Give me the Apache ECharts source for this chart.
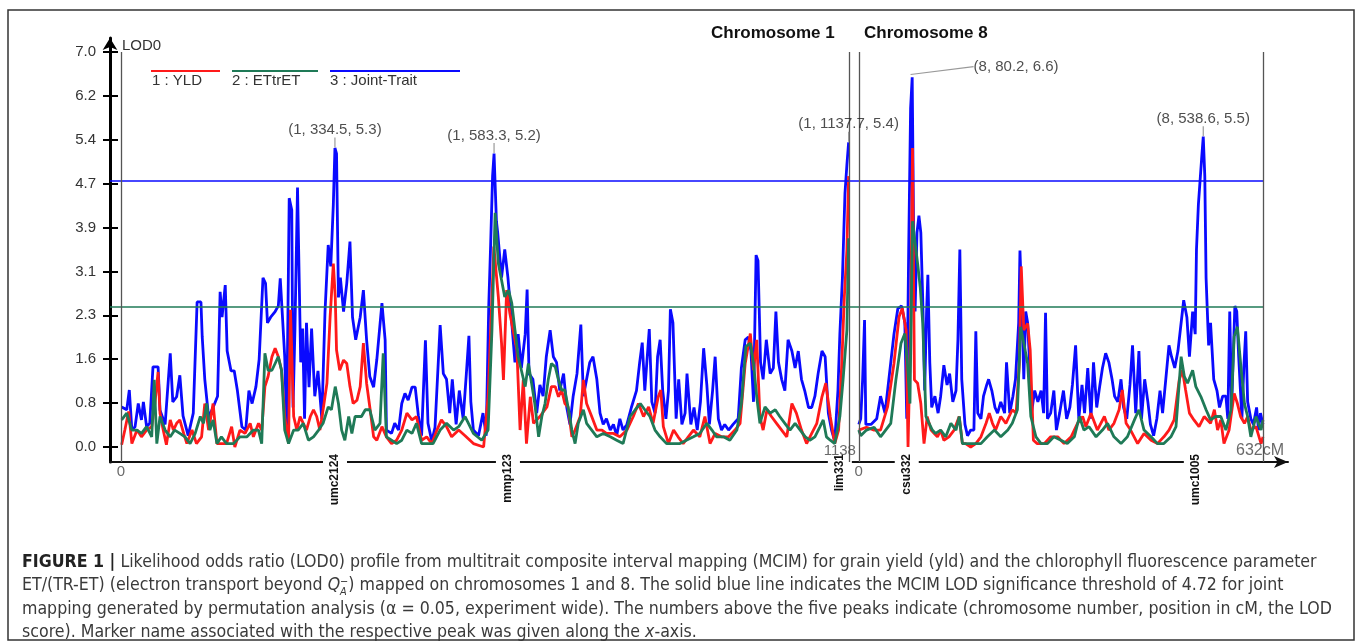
<!DOCTYPE html>
<html>
<head>
<meta charset="utf-8">
<title>MCIM LOD profile</title>
<script src="https://cdn.jsdelivr.net/npm/echarts@6/dist/echarts.min.js"></script>
<style>
html, body { margin: 0; padding: 0; background: #fff; }
#wrap { position: relative; width: 1357px; height: 644px; }
#chart { position: absolute; left: 0; top: 0; width: 1357px; height: 644px; }
#caption {
  position: absolute; left: 22px; top: 550px; white-space: nowrap;
  font-family: 'Liberation Sans Narrow', 'DejaVu Sans Condensed', sans-serif;
  font-size: 17.6px; line-height: 23px; color: #3a3a3a;
}
#caption b { color: #222; }
.qa { display: inline-block; vertical-align: -0.45em; font-size: 0.62em; line-height: 0.95em; text-align: left; }
</style>
</head>
<body>
<div id="wrap">
  <div id="chart"></div>
  <div id="caption">
    <b>FIGURE 1 |</b> Likelihood odds ratio (LOD0) profile from multitrait composite interval mapping (MCIM) for grain yield (yld) and the chlorophyll fluorescence parameter<br>
    ET/(TR-ET) (electron transport beyond <i>Q</i><span class="qa">&minus;<br><i>A</i></span>) mapped on chromosomes 1 and 8. The solid blue line indicates the MCIM LOD significance threshold of 4.72 for joint<br>
    mapping generated by permutation analysis (&alpha; = 0.05, experiment wide). The numbers above the five peaks indicate (chromosome number, position in cM, the LOD<br>
    score). Marker name associated with the respective peak was given along the <i>x</i>-axis.
  </div>
</div>
<script>
// chromosome lengths (cM) and the gap drawn between the two linkage maps
const chr1Length = 1138;
const chr8Length = 632;
const chr8Offset = 1153.6;

// y axis ticks (LOD0)
const yTickValues = [0, 0.778, 1.556, 2.333, 3.111, 3.889, 4.667, 5.444, 6.222, 7.0];

// significance thresholds
const jointThreshold = 4.72;
const etThreshold = 2.48;

// markers along the x axis
const markerNames = ['umc2124', 'mmp123', 'lim331', 'csu332', 'umc1005'];
const markerChr = [1, 1, 1, 8, 8];
const markerCM = [334.6, 605, 1124, 75, 527];

// labelled peaks (chromosome, position, LOD)
const peakChr = [1, 1, 1, 8, 8];
const peakCM = [334.5, 583.3, 1137.7, 80.2, 538.6];
const peakLOD = [5.3, 5.2, 5.4, 6.6, 5.5];

// [cM, LOD] read from the profile
const chr1Joint = [[1,0.71],[9,0.66],[13,1.01],[17,0.30],[22,0.36],[27,0.77],[32,0.48],[35,0.80],[40,0.36],[45,0.42],[50,1.42],[58,1.42],[61,0.65],[69,0.40],[77,1.66],[81,0.80],[87,0.89],[92,1.27],[97,0.55],[105,0.20],[113,0.60],[119,2.57],[125,2.57],[127,1.95],[131,1.20],[137,0.53],[144,0.70],[151,0.90],[155,2.75],[158,2.30],[163,2.87],[166,1.70],[172,1.35],[177,1.35],[182,1.00],[189,0.36],[195,0.30],[200,1.00],[205,0.77],[211,1.07],[216,1.55],[222,3.00],[226,2.90],[229,2.20],[234,2.30],[241,2.40],[246,2.50],[249,2.99],[252,2.40],[256,1.60],[259,0.30],[263,4.41],[267,4.20],[269,0.70],[272,2.10],[276,4.60],[279,4.60],[281,1.50],[284,2.10],[287,0.50],[290,2.20],[294,1.06],[298,2.10],[303,0.90],[308,1.35],[314,0.50],[319,2.40],[324,3.58],[328,3.20],[332,4.30],[334.5,5.30],[337,5.20],[340,2.65],[343,3.00],[348,2.40],[353,2.90],[358,3.64],[362,2.30],[367,1.90],[374,2.30],[379,2.78],[384,1.90],[389,1.25],[395,1.06],[400,1.55],[408,2.55],[413,1.90],[415,0.30],[423,0.24],[428,0.42],[434,0.30],[439,0.77],[444,0.95],[449,0.83],[455,1.06],[460,1.06],[465,0.55],[470,0.20],[476,1.89],[480,0.42],[486,0.10],[491,0.35],[499,2.16],[504,1.30],[509,1.20],[514,0.60],[518,1.20],[524,0.40],[529,1.00],[535,0.50],[540,1.30],[544,1.97],[547,0.80],[551,0.30],[559,0.20],[566,0.60],[571,0.20],[575,2.50],[578,3.60],[581,4.80],[583.3,5.20],[587,4.00],[589,3.80],[595,3.00],[600,3.50],[605,3.00],[611,2.20],[616,1.50],[621,2.00],[626,1.40],[632,2.00],[635,2.79],[638,1.30],[644,1.20],[650,0.60],[655,1.10],[660,0.90],[665,1.60],[671,2.07],[676,1.60],[681,1.50],[686,1.00],[692,1.30],[697,0.70],[702,0.40],[707,0.90],[713,1.30],[719,2.17],[723,0.90],[728,1.20],[733,1.50],[738,1.60],[744,1.20],[749,0.60],[754,0.40],[759,0.50],[765,0.30],[770,0.40],[775,0.20],[780,0.50],[785,0.30],[791,0.40],[798,0.70],[806,1.00],[811,1.50],[815,1.85],[819,1.00],[826,2.09],[830,0.80],[835,0.60],[839,1.60],[843,1.90],[847,1.00],[852,0.50],[856,1.00],[859,2.44],[863,2.20],[868,0.50],[872,1.20],[877,0.40],[882,0.60],[885,1.30],[891,0.40],[896,0.70],[901,0.30],[906,0.80],[911,1.75],[916,1.10],[920,0.40],[925,1.00],[929,1.60],[934,0.50],[939,0.30],[944,0.40],[950,0.30],[957,0.40],[965,0.50],[970,1.40],[976,1.90],[981,1.95],[985,1.70],[989,0.80],[993,3.40],[996,3.30],[1000,1.50],[1004,1.20],[1009,1.90],[1015,1.30],[1020,1.40],[1024,2.40],[1028,1.50],[1033,1.20],[1038,1.00],[1043,1.90],[1049,1.70],[1054,1.40],[1059,1.70],[1064,1.20],[1069,1.00],[1075,0.70],[1080,0.70],[1085,0.90],[1090,1.30],[1096,1.70],[1101,1.60],[1106,0.60],[1111,0.30],[1116,0.10],[1121,1.00],[1124,2.00],[1128,3.00],[1132,4.50],[1135,5.00],[1137.7,5.40]];

const chr1Yld = [[1,0.04],[6,0.30],[12,0.63],[17,0.06],[25,0.30],[32,0.18],[40,0.30],[48,0.36],[53,0.77],[58,1.33],[61,0.60],[66,0.30],[71,0.04],[77,0.48],[82,0.30],[87,0.42],[92,0.48],[98,0.24],[103,0.06],[111,0.30],[118,0.06],[126,0.18],[131,0.77],[137,0.30],[144,0.77],[150,0.06],[157,0.06],[165,0.06],[173,0.36],[178,0.00],[186,0.30],[194,0.24],[202,0.42],[207,0.18],[215,0.42],[220,0.30],[225,1.07],[230,1.25],[236,1.60],[241,1.75],[246,1.60],[251,1.36],[256,0.54],[262,0.06],[265,2.43],[270,0.54],[275,0.30],[280,0.54],[285,0.42],[290,0.30],[296,0.54],[301,0.66],[306,0.54],[311,0.30],[316,0.66],[322,1.13],[327,2.31],[332,3.25],[335,2.66],[337,1.72],[342,1.36],[348,1.54],[353,1.48],[358,1.07],[363,0.77],[369,0.83],[374,1.07],[379,1.84],[384,1.13],[389,0.71],[395,0.18],[400,0.12],[408,0.36],[415,0.18],[423,0.06],[431,0.12],[439,0.30],[447,0.60],[455,0.48],[462,0.54],[470,0.12],[478,0.18],[486,0.06],[494,0.30],[501,0.48],[509,0.36],[517,0.18],[528,0.30],[538,0.20],[551,0.06],[567,0.00],[574,0.90],[580,2.66],[583,3.55],[590,2.66],[595,1.84],[598,1.19],[603,2.78],[608,2.37],[613,2.07],[619,1.72],[624,0.30],[629,1.19],[634,0.06],[640,0.89],[645,0.42],[655,0.54],[666,0.71],[673,1.07],[679,1.07],[684,0.89],[689,1.01],[694,0.77],[699,0.71],[705,0.18],[710,0.30],[718,0.54],[723,1.19],[728,0.77],[736,0.54],[744,0.30],[752,0.30],[759,0.24],[770,0.24],[780,0.18],[791,0.30],[801,0.54],[809,0.77],[817,0.54],[825,0.71],[832,0.42],[840,0.89],[844,1.01],[848,0.36],[856,0.06],[864,0.30],[871,0.18],[879,0.06],[887,0.18],[895,0.30],[905,0.18],[913,0.54],[921,0.06],[929,0.24],[939,0.18],[950,0.18],[960,0.30],[968,0.42],[976,1.48],[984,2.01],[989,1.36],[994,1.90],[999,0.54],[1004,0.30],[1010,0.66],[1017,0.54],[1025,0.42],[1033,0.30],[1041,0.18],[1049,0.77],[1056,0.60],[1064,0.30],[1072,0.06],[1080,0.24],[1088,0.42],[1096,0.89],[1102,1.13],[1109,0.54],[1116,0.06],[1122,0.30],[1127,1.48],[1131,2.66],[1135,3.49],[1137.7,4.80]];

const chr1Et = [[1,0.48],[9,0.60],[17,0.30],[25,0.30],[32,0.24],[40,0.36],[48,0.18],[52,1.19],[56,0.06],[61,0.54],[69,0.30],[77,0.18],[84,0.30],[92,0.24],[100,0.18],[108,0.06],[116,0.24],[124,0.54],[129,0.42],[134,0.77],[139,0.30],[144,0.48],[150,0.06],[157,0.18],[165,0.06],[176,0.06],[186,0.18],[197,0.18],[207,0.30],[215,0.30],[220,0.06],[225,1.66],[230,1.36],[236,1.36],[241,1.48],[246,1.60],[251,1.36],[256,0.30],[262,0.06],[270,0.30],[277,0.30],[285,0.42],[293,0.12],[301,0.18],[309,0.30],[316,0.42],[324,0.71],[329,0.66],[335,1.07],[340,0.77],[345,0.30],[350,0.12],[356,0.54],[361,0.24],[366,0.54],[371,0.54],[376,0.54],[382,0.66],[389,0.66],[397,0.30],[405,0.42],[410,1.66],[415,0.18],[423,0.12],[431,0.06],[439,0.12],[447,0.30],[455,0.24],[462,0.42],[470,0.06],[478,0.06],[488,0.06],[499,0.30],[509,0.42],[520,0.30],[528,0.36],[538,0.54],[551,0.24],[564,0.12],[574,0.30],[580,2.07],[585,4.15],[590,3.25],[595,2.96],[600,2.66],[606,2.78],[611,2.55],[616,2.07],[621,1.60],[626,1.36],[632,1.07],[637,1.48],[642,1.13],[647,0.77],[653,0.18],[658,0.54],[663,0.77],[668,1.19],[673,1.48],[679,1.42],[684,1.19],[689,1.01],[694,1.01],[699,0.71],[705,0.30],[710,0.06],[715,0.42],[723,0.66],[728,0.42],[736,0.30],[744,0.18],[754,0.24],[765,0.18],[775,0.12],[785,0.06],[796,0.54],[804,0.66],[812,0.77],[819,0.66],[827,0.54],[835,0.30],[843,0.18],[853,0.06],[864,0.06],[874,0.06],[884,0.12],[895,0.18],[905,0.24],[916,0.42],[924,0.30],[931,0.18],[942,0.18],[952,0.12],[963,0.30],[970,0.77],[977,1.78],[984,1.84],[989,1.48],[994,0.89],[999,0.42],[1007,0.71],[1015,0.60],[1023,0.66],[1030,0.54],[1038,0.42],[1046,0.30],[1054,0.42],[1062,0.30],[1070,0.18],[1077,0.12],[1085,0.18],[1093,0.36],[1098,0.48],[1103,0.18],[1109,0.12],[1116,0.06],[1124,0.54],[1129,1.19],[1135,2.07],[1137.7,3.70]];

const chr8Joint = [[0,0.40],[3,0.50],[6,1.20],[9,2.25],[11,0.40],[19,0.40],[28,0.50],[34,0.90],[41,0.60],[45,1.00],[50,1.50],[55,2.00],[61,2.45],[67,2.50],[72,2.20],[75,0.50],[78,3.50],[81,6.00],[83.5,6.55],[86,3.50],[88,2.40],[91,3.80],[94,4.10],[97,3.80],[100,2.60],[103,1.00],[106,2.40],[108,3.05],[111,1.50],[114,0.70],[119,0.90],[124,0.60],[128,0.90],[133,1.45],[138,1.10],[142,1.30],[147,0.80],[152,1.00],[155,1.90],[158,3.50],[161,1.20],[166,0.40],[170,0.20],[175,0.30],[180,0.30],[183,2.05],[186,0.60],[191,0.50],[195,0.90],[200,1.10],[203,1.20],[208,1.00],[213,0.70],[217,0.60],[222,0.80],[228,0.60],[231,1.50],[236,0.60],[241,0.90],[245,1.20],[250,2.20],[252,3.48],[255,2.50],[258,1.20],[261,2.40],[264,2.20],[267,1.50],[270,0.60],[275,1.00],[280,0.80],[285,1.00],[289,0.60],[292,2.38],[295,0.50],[300,0.60],[305,1.00],[309,0.30],[314,0.60],[320,1.00],[325,0.50],[330,0.70],[334,1.10],[339,1.80],[344,0.50],[349,1.10],[353,0.60],[358,1.40],[363,0.50],[367,1.50],[372,0.70],[377,1.10],[381,1.40],[386,1.66],[391,1.50],[396,1.20],[400,0.90],[405,0.80],[410,1.20],[414,0.70],[419,0.50],[424,1.10],[428,1.80],[433,0.60],[438,1.70],[442,0.50],[447,1.20],[452,0.80],[456,0.40],[461,0.20],[466,0.50],[471,1.00],[475,0.60],[480,1.20],[485,1.80],[489,1.60],[494,1.40],[499,1.70],[503,2.10],[508,2.60],[513,2.30],[517,1.60],[522,2.40],[526,2.00],[528,3.50],[531,4.30],[536,5.10],[538.6,5.50],[541,4.80],[543,3.00],[547,1.80],[550,2.20],[555,1.20],[560,1.00],[564,0.70],[569,0.90],[574,0.90],[577,0.50],[580,2.40],[583,0.70],[588,2.50],[591,2.40],[594,1.60],[599,0.50],[602,1.40],[605,2.05],[608,0.80],[613,0.50],[617,0.40],[622,0.70],[625,0.30],[628,0.60],[632,0.40]];

const chr8Yld = [[0,0.30],[3,0.30],[12,0.35],[24,0.30],[34,0.30],[45,0.71],[55,1.48],[63,2.31],[68,2.46],[74,2.07],[77,0.00],[81,2.07],[84,5.30],[87,1.19],[92,1.13],[97,0.77],[102,0.06],[107,0.54],[113,0.30],[118,0.24],[123,0.18],[128,0.30],[133,0.12],[141,0.18],[149,0.30],[157,0.54],[162,0.06],[167,0.06],[175,0.00],[183,0.06],[191,0.18],[199,0.42],[204,0.60],[209,0.42],[214,0.30],[222,0.54],[230,0.42],[235,0.54],[240,0.66],[246,0.60],[251,1.48],[254,3.20],[258,2.07],[264,2.19],[268,1.72],[273,0.12],[279,0.06],[290,0.06],[300,0.18],[311,0.18],[321,0.06],[332,0.18],[342,0.42],[350,0.54],[355,0.36],[363,0.60],[373,0.30],[384,0.54],[391,0.30],[399,0.42],[407,0.66],[412,1.01],[418,0.42],[425,0.30],[436,0.06],[446,0.24],[457,0.12],[467,0.06],[477,0.18],[485,0.30],[493,0.48],[501,1.19],[506,1.36],[511,1.01],[517,0.60],[524,0.48],[532,0.36],[540,0.54],[550,0.42],[556,0.66],[561,0.30],[566,0.48],[571,0.06],[579,0.30],[587,0.95],[592,0.77],[597,0.54],[603,0.42],[608,0.54],[613,0.30],[621,0.36],[629,0.06],[632,0.18]];

const chr8Et = [[0,0.30],[3,0.20],[12,0.30],[24,0.35],[34,0.18],[42,0.30],[50,0.42],[58,1.19],[66,1.84],[72,2.01],[76,1.48],[80,0.77],[84,4.00],[92,3.25],[96,2.84],[100,2.19],[105,0.54],[110,0.42],[115,0.30],[120,0.24],[128,0.30],[136,0.18],[144,0.42],[152,0.30],[157,0.54],[162,0.06],[170,0.06],[180,0.06],[191,0.06],[201,0.18],[212,0.30],[222,0.18],[233,0.30],[240,0.42],[248,0.66],[253,2.13],[259,1.78],[264,1.48],[269,0.54],[277,0.18],[285,0.06],[295,0.06],[305,0.18],[316,0.12],[326,0.06],[337,0.18],[345,0.54],[352,0.30],[360,0.36],[371,0.18],[381,0.30],[389,0.42],[399,0.18],[410,0.06],[420,0.18],[431,0.48],[438,0.66],[446,0.30],[457,0.18],[467,0.06],[477,0.06],[488,0.18],[496,0.36],[504,1.60],[509,1.25],[514,1.13],[522,1.36],[527,1.07],[535,0.89],[543,0.66],[550,0.48],[558,0.54],[566,0.54],[574,0.30],[582,0.66],[587,1.96],[592,2.13],[597,1.48],[603,0.77],[608,0.54],[613,0.18],[621,0.54],[629,0.30],[632,0.48]];

const colYld = '#ff1a1a';
const colEt = '#1f7a57';
const colJoint = '#0a0aff';

// axis extents so the axis lines sit where the original draws them
const xMin = -17.2, xMax = 1824.7;
const yMin = -0.266, yMax = 7.248;

function toAxis(chr, cm) {
  return chr === 8 ? chr8Offset + cm : cm;
}

const markerAxis = markerNames.map((n, i) => toAxis(markerChr[i], markerCM[i]));

function profile(name, data, chr, color) {
  return {
    name: name,
    type: 'line',
    data: data.map(d => [toAxis(chr, d[0]), d[1]]),
    showSymbol: false,
    symbol: 'none',
    silent: true,
    lineStyle: { color: color, width: 2.8 },
    itemStyle: { color: color }
  };
}

const chart = echarts.init(document.getElementById('chart'));

const bounds = [[1, 0], [1, chr1Length], [8, 0], [8, chr8Length]];

chart.setOption({
  animation: false,
  textStyle: { fontFamily: 'Liberation Sans, Arial, sans-serif' },
  title: [
    { text: 'Chromosome 1', left: 711, top: 25, padding: 0, textStyle: { fontSize: 17, fontWeight: 'bold', color: '#111' } },
    { text: 'Chromosome 8', left: 864, top: 25, padding: 0, textStyle: { fontSize: 17, fontWeight: 'bold', color: '#111' } }
  ],
  grid: { left: 110, top: 38, right: 69, bottom: 182 },
  xAxis: [{
    type: 'value', min: xMin, max: xMax, position: 'bottom',
    axisLine: { show: true, onZero: false, lineStyle: { color: '#111', width: 2 }, symbol: ['none', 'arrow'], symbolSize: [9, 14] },
    axisTick: { show: false },
    splitLine: { show: false },
    axisLabel: {
      customValues: markerAxis,
      rotate: 90, margin: -8,
      fontSize: 12, fontWeight: 'bold', color: '#111',
      backgroundColor: '#fff', padding: [6, 0, 6, 0],
      formatter: function (v) {
        let best = 0;
        markerAxis.forEach((m, i) => { if (Math.abs(m - v) < Math.abs(markerAxis[best] - v)) best = i; });
        return markerNames[best];
      }
    }
  }],
  yAxis: [{
    type: 'value', min: yMin, max: yMax,
    name: 'LOD0', nameLocation: 'end', nameGap: -15,
    nameTextStyle: { align: 'left', padding: [0, 0, 0, 12], fontSize: 15, color: '#333' },
    axisLine: { show: true, onZero: false, lineStyle: { color: '#000', width: 3 }, symbol: ['none', 'arrow'], symbolSize: [11, 12] },
    axisTick: { show: true, customValues: yTickValues, length: 7, lineStyle: { color: '#000', width: 2 } },
    axisLabel: { customValues: yTickValues, formatter: v => v.toFixed(1), margin: 14, fontSize: 15, color: '#333' },
    splitLine: { show: false }
  }, {
    type: 'value', min: yMin, max: yMax, position: 'left',
    axisLine: { show: false, onZero: false },
    axisTick: { show: true, inside: true, customValues: yTickValues, length: 8, lineStyle: { color: '#000', width: 2 } },
    axisLabel: { show: false },
    splitLine: { show: false }
  }],
  graphic: [
    { type: 'rect', shape: { x: 8, y: 10, width: 1346, height: 630 }, style: { fill: 'none', stroke: '#333', lineWidth: 1.5 }, silent: true },
    { type: 'line', shape: { x1: 151, y1: 71, x2: 220, y2: 71 }, style: { stroke: colYld, lineWidth: 2 } },
    { type: 'line', shape: { x1: 232, y1: 71, x2: 318, y2: 71 }, style: { stroke: colEt, lineWidth: 2 } },
    { type: 'line', shape: { x1: 330, y1: 71, x2: 460, y2: 71 }, style: { stroke: colJoint, lineWidth: 2 } },
    { type: 'text', x: 152, y: 73, style: { text: '1 : YLD', fontSize: 15, fontFamily: 'Liberation Sans', fill: '#333' } },
    { type: 'text', x: 232, y: 73, style: { text: '2 : ETtrET', fontSize: 15, fontFamily: 'Liberation Sans', fill: '#333' } },
    { type: 'text', x: 330, y: 73, style: { text: '3 : Joint-Trait', fontSize: 15, fontFamily: 'Liberation Sans', fill: '#333' } }
  ],
  series: [
    Object.assign(profile('3 : Joint-Trait', chr1Joint, 1, colJoint), {
      markLine: {
        silent: true, symbol: 'none', label: { show: false },
        data: [
          [{ coord: [xMin, jointThreshold], lineStyle: { color: colJoint, width: 1.6, type: 'solid' } }, { coord: [toAxis(8, chr8Length), jointThreshold] }],
          [{ coord: [xMin, etThreshold], lineStyle: { color: colEt, width: 1.6, type: 'solid' } }, { coord: [toAxis(8, chr8Length), etThreshold] }]
        ].concat(bounds.map(b => [
          { coord: [toAxis(b[0], b[1]), yMin], lineStyle: { color: '#555', width: 1.3, type: 'solid' } },
          { coord: [toAxis(b[0], b[1]), 7.0] }
        ]))
      }
    }),
    profile('3 : Joint-Trait', chr8Joint, 8, colJoint),
    profile('1 : YLD', chr1Yld, 1, colYld),
    profile('1 : YLD', chr8Yld, 8, colYld),
    profile('2 : ETtrET', chr1Et, 1, colEt),
    profile('2 : ETtrET', chr8Et, 8, colEt),
    {
      name: 'peaks',
      type: 'scatter',
      z: 10,
      symbolSize: 1,
      itemStyle: { color: 'rgba(0,0,0,0)' },
      data: peakChr.map((c, i) => [toAxis(c, peakCM[i]), peakLOD[i], c, peakCM[i]]),
      label: {
        show: true, position: 'top', distance: 2,
        fontSize: 15, color: '#222',
        formatter: p => '(' + p.value[2] + ', ' + p.value[3] + ', ' + p.value[1] + ')'
      },
      labelLine: { show: true, lineStyle: { color: '#999', width: 1.2 } },
      labelLayout: function (p) {
        return p.dataIndex === 3 ? { dx: 106, dy: 2 } : { dy: -8 };
      }
    },
    {
      name: 'axis notes',
      type: 'scatter',
      z: 10,
      symbolSize: 1,
      itemStyle: { color: 'rgba(0,0,0,0)' },
      label: { show: true, fontSize: 15, color: '#444', formatter: p => p.value[2] },
      data: [
        { value: [toAxis(1, 0), yMin, '0'], label: { position: 'bottom', distance: 2 } },
        { value: [toAxis(1, chr1Length), yMin, String(chr1Length)], label: { position: 'top', distance: 3, offset: [-9, 0] } },
        { value: [toAxis(8, 0), yMin, '0'], label: { position: 'bottom', distance: 2 } },
        { value: [toAxis(8, chr8Length), yMin, chr8Length + 'cM'], label: { position: 'top', distance: 3, offset: [-3, 0], fontSize: 16 } }
      ]
    }
  ]
});
</script>
</body>
</html>
